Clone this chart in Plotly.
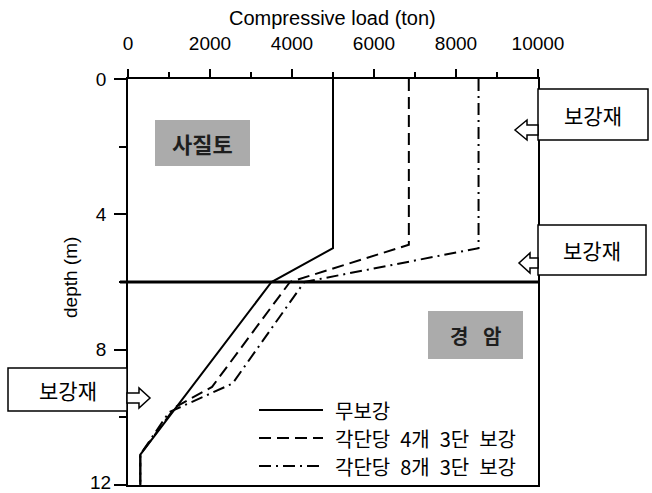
import plotly.graph_objects as go

# ---------------- data ----------------
SERIES_NAMES = ["무보강", "각단당 4개 3단 보강", "각단당 8개 3단 보강"]
SOLID_LOAD = [5000, 5000, 3500, 300, 300]
SOLID_DEPTH = [0, 5.0, 6.0, 11.1, 12]
DASHED_LOAD = [6850, 6850, 3950, 2050, 1150, 300, 300]
DASHED_DEPTH = [0, 4.9, 6.0, 9.1, 9.7, 11.1, 12]
DASHDOT_LOAD = [8550, 8550, 4300, 2550, 1000, 300, 300]
DASHDOT_DEPTH = [0, 5.0, 6.0, 9.0, 9.85, 11.1, 12]
X_TICKS = [0, 2000, 4000, 6000, 8000, 10000]
Y_TICKS = [0, 4, 8, 12]
LAYER_DEPTH = 6
SOIL_LABELS = ["사질토", "경 암"]
CALLOUT_TEXT = "보강재"

# ---------------- layout geometry (pixels) ----------------
W, H = 652, 493
L, R, T, B = 128, 538, 79, 485
PW, PH = R - L, B - T


def px(x):
    return (x - L) / PW


def py(y):
    return (B - y) / PH


FONT_LAT = "Liberation Sans, Arial, sans-serif"
FONT_KR = "Noto Sans CJK KR, sans-serif"

DASHES = ["solid", "12px,6px", "12px,5px,2px,5px"]
series = [(SOLID_LOAD, SOLID_DEPTH), (DASHED_LOAD, DASHED_DEPTH), (DASHDOT_LOAD, DASHDOT_DEPTH)]

fig = go.Figure()
for (xs, ys), name, dash in zip(series, SERIES_NAMES, DASHES):
    fig.add_trace(go.Scatter(x=xs, y=ys, mode="lines", name=name, showlegend=False,
                             line=dict(color="black", width=2, dash=dash)))

shapes = []
annotations = []

# layer boundary
shapes.append(dict(type="line", xref="paper", yref="y", x0=px(120), x1=1, y0=LAYER_DEPTH, y1=LAYER_DEPTH,
                   line=dict(color="black", width=3)))

# soil labels (gray boxes)
soil_boxes = [(155, 120, 250, 166), (428, 311, 523, 359)]
soil_sizes = [22, 20]
for (x0, y0, x1, y1), txt, fs in zip(soil_boxes, SOIL_LABELS, soil_sizes):
    shapes.append(dict(type="rect", xref="paper", yref="paper", x0=px(x0), x1=px(x1), y0=py(y1), y1=py(y0),
                       fillcolor="#ababab", line=dict(width=0), layer="below"))
    annotations.append(dict(xref="paper", yref="paper", x=px((x0 + x1) / 2), y=py((y0 + y1) / 2),
                            text="<b>%s</b>" % txt.replace(" ", "\u2002 "), showarrow=False,
                            xanchor="center", yanchor="middle",
                            font=dict(family=FONT_KR, size=fs, color="#1e1e1e")))


def path_from(points):
    return "M " + " L ".join("%f,%f" % (px(a), py(b)) for a, b in points) + " Z"


callouts = [
    ((538, 89, 648, 140), [(538, 125), (527, 125), (527, 120), (515, 130), (527, 140), (527, 135), (538, 135)]),
    ((538, 225, 646, 275), [(538, 258), (530, 258), (530, 253), (519, 263), (530, 273), (530, 268), (538, 268)]),
    ((8, 368, 127, 411), [(127, 393), (139, 393), (139, 388), (150, 398), (139, 408), (139, 403), (127, 403)]),
]
for (x0, y0, x1, y1), arrow in callouts:
    shapes.append(dict(type="rect", xref="paper", yref="paper", x0=px(x0), x1=px(x1), y0=py(y1), y1=py(y0),
                       fillcolor="white", line=dict(color="black", width=1.5)))
    shapes.append(dict(type="path", xref="paper", yref="paper", path=path_from(arrow),
                       fillcolor="white", line=dict(color="black", width=1.5)))
    annotations.append(dict(xref="paper", yref="paper", x=px((x0 + x1) / 2), y=py((y0 + y1) / 2),
                            text=CALLOUT_TEXT, showarrow=False, xanchor="center", yanchor="middle",
                            font=dict(family=FONT_KR, size=21, color="black")))

# manual legend
leg_rows = [410, 438, 466]
for name, dash, yy in zip(SERIES_NAMES, DASHES, leg_rows):
    shapes.append(dict(type="line", xref="paper", yref="paper", x0=px(259), x1=px(323), y0=py(yy), y1=py(yy),
                       line=dict(color="black", width=2, dash=dash)))
    annotations.append(dict(xref="paper", yref="paper", x=px(333), y=py(yy),
                            text=name.replace(" ", "\u2002"), showarrow=False,
                            xanchor="left", yanchor="middle",
                            font=dict(family=FONT_KR, size=20, color="black")))

# axis titles
annotations.append(dict(xref="paper", yref="paper", x=px(332), y=py(18), text="Compressive load (ton)",
                        showarrow=False, xanchor="center", yanchor="middle",
                        font=dict(family=FONT_LAT, size=20, color="black")))
annotations.append(dict(xref="paper", yref="paper", x=px(70), y=py(278), text="depth (m)", textangle=-90,
                        showarrow=False, xanchor="center", yanchor="middle",
                        font=dict(family=FONT_LAT, size=19, color="black")))

# last y tick label raised slightly so it stays inside the page
y_ticktext = [str(v) for v in Y_TICKS]
last_label = y_ticktext[-1]
y_ticktext[-1] = ""
annotations.append(dict(xref="paper", yref="y", x=px(113), y=Y_TICKS[-1], yshift=3, text=last_label,
                        showarrow=False, xanchor="right", yanchor="middle",
                        font=dict(family=FONT_LAT, size=19, color="black")))

fig.update_layout(
    width=W, height=H,
    margin=dict(l=L, r=W - R, t=T, b=H - B, pad=0),
    plot_bgcolor="white", paper_bgcolor="white",
    showlegend=False,
    shapes=shapes, annotations=annotations,
    xaxis=dict(side="top", range=[0, 10000], tickvals=X_TICKS, ticktext=[str(v) for v in X_TICKS],
               ticks="outside", ticklen=8, tickwidth=1.5, tickcolor="black",
               minor=dict(ticks="outside", ticklen=5, tickwidth=1.5, dtick=1000, tickcolor="black", showgrid=False),
               showline=True, linecolor="black", linewidth=1.5, mirror=True, automargin=False,
               showgrid=False, zeroline=False, ticklabelstandoff=12, ticklabeloverflow="allow",
               tickfont=dict(family=FONT_LAT, size=19, color="black")),
    yaxis=dict(range=[12, 0], tickvals=Y_TICKS, ticktext=y_ticktext,
               ticks="outside", ticklen=12, tickwidth=1.5, tickcolor="black",
               minor=dict(ticks="outside", ticklen=7, tickwidth=1.5, dtick=2, tickcolor="black", showgrid=False),
               showline=True, linecolor="black", linewidth=1.5, mirror=True, automargin=False,
               showgrid=False, zeroline=False, ticklabelstandoff=4, ticklabeloverflow="allow",
               tickfont=dict(family=FONT_LAT, size=19, color="black")),
)

fig.write_html("out.html")
